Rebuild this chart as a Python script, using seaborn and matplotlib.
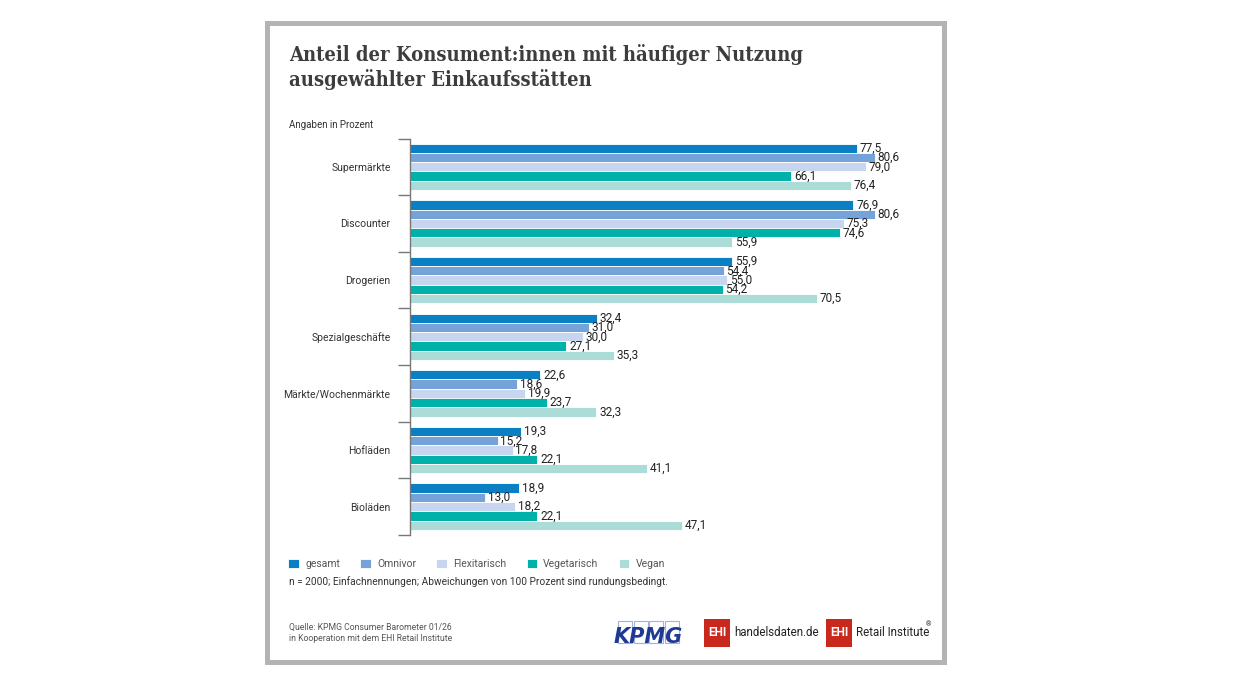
import pandas as pd
import matplotlib.pyplot as plt
import seaborn as sns
from matplotlib.patches import Rectangle

# Daten
kategorien = ["Supermärkte", "Discounter", "Drogerien", "Spezialgeschäfte",
              "Märkte/Wochenmärkte", "Hofläden", "Bioläden"]
gruppen = ["gesamt", "Omnivor", "Flexitarisch", "Vegetarisch", "Vegan"]
gesamt = [77.5, 76.9, 55.9, 32.4, 22.6, 19.3, 18.9]
omnivor = [80.6, 80.6, 54.4, 31.0, 18.6, 15.2, 13.0]
flexitarisch = [79.0, 75.3, 55.0, 30.0, 19.9, 17.8, 18.2]
vegetarisch = [66.1, 74.6, 54.2, 27.1, 23.7, 22.1, 22.1]
vegan = [76.4, 55.9, 70.5, 35.3, 32.3, 41.1, 47.1]
farben = ["#0a7fc4", "#74a2d9", "#c7d5ef", "#00b1a9", "#acdcd8"]

titel = "Anteil der Konsument:innen mit häufiger Nutzung\nausgewählter Einkaufsstätten"
fussnote = "n = 2000; Einfachnennungen; Abweichungen von 100 Prozent sind rundungsbedingt."
quelle = "Quelle: KPMG Consumer Barometer 01/26\nin Kooperation mit dem EHI Retail Institute"

werte = {"gesamt": gesamt, "Omnivor": omnivor, "Flexitarisch": flexitarisch,
         "Vegetarisch": vegetarisch, "Vegan": vegan}
rows = []
for g in gruppen:
    for k, v in zip(kategorien, werte[g]):
        rows.append({"Kategorie": k, "Gruppe": g, "Wert": v})
df = pd.DataFrame(rows)

sns.set_style("white")
plt.rcParams['font.family'] = ['Roboto', 'DejaVu Sans']

fig = plt.figure(figsize=(12.6, 6.8), dpi=100)

# grauer Rahmen
fig.patches.append(Rectangle((0.2123, 0.0272), 0.7496 - 0.2123, 0.9669 - 0.0272,
                             transform=fig.transFigure, facecolor="white",
                             edgecolor="#b3b3b3", linewidth=3.6, zorder=-5))

ax = fig.add_axes([0.3254, 0.2132, 0.4087, 0.5831])
ax.set_facecolor("none")
sns.barplot(data=df, y="Kategorie", x="Wert", hue="Gruppe", orient="h",
            palette=farben, width=0.82, saturation=1, edgecolor="white",
            linewidth=0.6, ax=ax, legend=True)

ax.set_xlim(0, 89.3)
ax.set_ylim(6.5, -0.5)
ax.set_xlabel("")
ax.set_ylabel("")
ax.set_xticks([])
for s in ["top", "right", "bottom"]:
    ax.spines[s].set_visible(False)
ax.spines["left"].set_color("#777777")
ax.spines["left"].set_linewidth(1)
ax.set_yticks(range(len(kategorien)))
ax.set_yticklabels(kategorien, fontsize=7.5, color="#333333")
ax.tick_params(axis="y", which="major", length=0, pad=14)
# Klammer-Striche an den Gruppengrenzen
ax.set_yticks([i - 0.5 for i in range(len(kategorien) + 1)], minor=True)
ax.tick_params(axis="y", which="minor", left=True, length=9, width=1, color="#777777")

for cont in ax.containers:
    labels = [f"{b.get_width():.1f}".replace(".", ",") for b in cont]
    ax.bar_label(cont, labels=labels, padding=2, fontsize=8.5, color="#222222")

# Legende
handles, lbls = ax.get_legend_handles_labels()
ax.legend_.remove()
fig.legend(handles, lbls, loc="center left", bbox_to_anchor=(0.2215, 1 - 564 / 680),
           ncol=5, frameon=False, fontsize=7.5, handlelength=1.0, handleheight=1.0,
           handletextpad=0.6, columnspacing=1.95, labelcolor="#555555")

# Texte
fig.text(289 / 1260, 1 - 44 / 680, titel, fontsize=14.5, fontweight="bold",
         family="DejaVu Serif", fontstretch="condensed", color="#3d3d3d",
         va="top", linespacing=1.25)
fig.text(289 / 1260, 1 - 125 / 680, "Angaben in Prozent", fontsize=7,
         color="#333333", va="center")
fig.text(289 / 1260, 1 - 582 / 680, fussnote, fontsize=7.3, color="#333333", va="center")
fig.text(289 / 1260, 1 - 633 / 680, quelle, fontsize=6.2, color="#555555",
         va="center", linespacing=1.4)

# Logos (vereinfacht)
for i in range(4):
    fig.patches.append(Rectangle(((618 + i * 15.5) / 1260, 1 - 643 / 680), 14 / 1260, 22 / 680,
                                 transform=fig.transFigure, facecolor="none",
                                 edgecolor="#9fb3dc", linewidth=0.8))
fig.text(614 / 1260, 1 - 637 / 680, "KPMG", fontsize=15, fontweight="bold",
         fontstyle="italic", color="#1e3a94", va="center", family="DejaVu Sans")

for x0, txt in [(704, "handelsdaten.de"), (826, "Retail Institute")]:
    fig.patches.append(Rectangle((x0 / 1260, 1 - 647 / 680), 26 / 1260, 28 / 680,
                                 transform=fig.transFigure, facecolor="#c9281c",
                                 edgecolor="none"))
    fig.text((x0 + 13) / 1260, 1 - 633 / 680, "EHI", fontsize=8.5, fontweight="bold",
             color="white", ha="center", va="center")
    fig.text((x0 + 30) / 1260, 1 - 633 / 680, txt, fontsize=8.3, color="#222222",
             va="center")
fig.text(926 / 1260, 1 - 625 / 680, "®", fontsize=5, color="#222222", va="center")

fig.savefig("out.png", dpi=100, facecolor="white")
